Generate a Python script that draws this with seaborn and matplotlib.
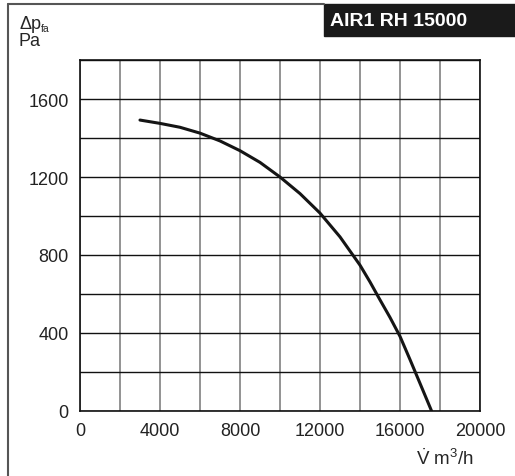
import numpy as np
import pandas as pd
import seaborn as sns
import matplotlib.pyplot as plt
from matplotlib.lines import Line2D
from matplotlib.patches import Rectangle

# fan curve
flow = [3000, 4000, 5000, 6000, 7000, 8000, 9000, 10000, 11000, 12000,
        13000, 14000, 14500, 15000, 15500, 16000, 16500, 17000, 17580]
pressure = [1492, 1475, 1455, 1425, 1385, 1335, 1275, 1200, 1115, 1015,
            893, 748, 662, 570, 480, 383, 264, 142, 0]

x_ticks = [0, 4000, 8000, 12000, 16000, 20000]
y_ticks = [0, 400, 800, 1200, 1600]
title = "AIR1 RH 15000"

df = pd.DataFrame({"flow": flow, "pressure": pressure})

sns.set_style("white")
plt.rcParams["font.family"] = ["Liberation Sans", "DejaVu Sans"]
plt.rcParams["mathtext.fontset"] = "custom"
plt.rcParams["mathtext.rm"] = "Liberation Sans"
plt.rcParams["mathtext.it"] = "Liberation Sans"

fig = plt.figure(figsize=(5.15, 4.77), dpi=100)
ax = fig.add_axes([0.1553, 0.1363, 0.7767, 0.7358])

ax.set_xlim(0, 20000)
ax.set_ylim(0, 1800)
ax.set_xticks(x_ticks)
ax.set_xticks(np.arange(0, 20001, 2000), minor=True)
ax.set_yticks(y_ticks)
ax.set_yticks(np.arange(0, 1801, 200), minor=True)
ax.set_xticklabels([str(v) for v in x_ticks])
ax.set_yticklabels([str(v) for v in y_ticks])

ax.grid(axis="x", which="both", color="#8a8a8a", lw=1.3)
ax.grid(axis="y", which="both", color="#111111", lw=1.0)
ax.set_axisbelow(True)

sns.lineplot(data=df, x="flow", y="pressure", color="#151515", lw=2.2, ax=ax)
ax.set_xlabel("")
ax.set_ylabel("")

for s in ax.spines.values():
    s.set_color("#111111")
    s.set_linewidth(1.2)
ax.tick_params(axis="both", which="major", direction="out", length=5, width=1,
               color="#111111", labelsize=13, pad=3)
ax.tick_params(axis="both", which="minor", length=0)
for lab in ax.get_xticklabels() + ax.get_yticklabels():
    lab.set_color("#222222")

# frame lines and labels
fig.add_artist(Line2D([8 / 515, 8 / 515], [0, 1 - 5 / 477], color="#555555", lw=1.5))
fig.add_artist(Line2D([8 / 515, 324 / 515], [1 - 5 / 477, 1 - 5 / 477], color="#555555", lw=1.5))
fig.add_artist(Rectangle((324 / 515, 1 - 37 / 477), 191 / 515, 32 / 477,
                         transform=fig.transFigure, color="#1a1a1a", zorder=0))
fig.text(330 / 515, 1 - 21 / 477, title, color="white", fontsize=14,
         fontweight="bold", va="center", ha="left")

fig.text(19 / 515, 1 - 29 / 477, "Δp", fontsize=13, va="baseline", ha="left")
fig.text(41 / 515, 1 - 32 / 477, "fa", fontsize=7.5, va="baseline", ha="left")
fig.text(19 / 515, 1 - 46 / 477, "Pa", fontsize=13, va="baseline", ha="left")
fig.text(416 / 515, 1 - 465 / 477, r"$\dot{\mathrm{V}}$ m$^3$/h", fontsize=13.5,
         va="baseline", ha="left")

plt.savefig("out.png", dpi=100)
